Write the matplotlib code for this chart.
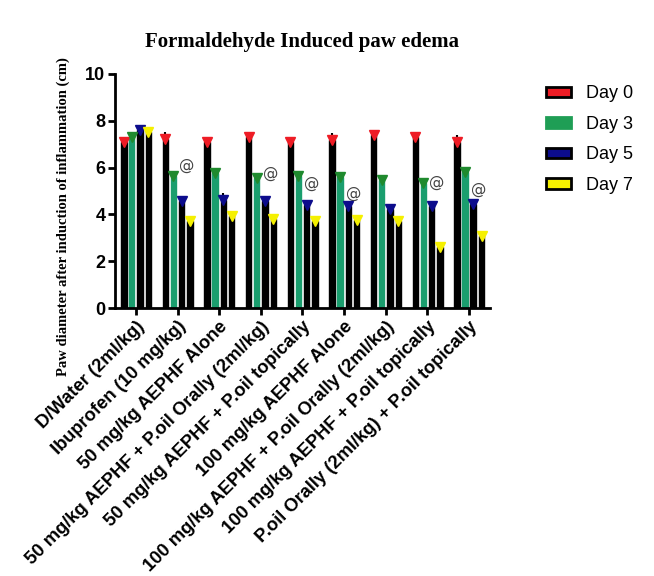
import numpy as np
import matplotlib
matplotlib.use("Agg")
import matplotlib.pyplot as plt
from matplotlib.patches import Patch

groups = [
    "D/Water (2ml/kg)",
    "Ibuprofen (10 mg/kg)",
    "50 mg/kg AEPHF Alone",
    "50 mg/kg AEPHF + P.oil Orally (2ml/kg)",
    "50 mg/kg AEPHF + P.oil topically",
    "100 mg/kg AEPHF Alone",
    "100 mg/kg AEPHF + P.oil Orally (2ml/kg)",
    "100 mg/kg AEPHF + P.oil topically",
    "P.oil Orally (2ml/kg) + P.oil topically",
]
days = ["Day 0", "Day 3", "Day 5", "Day 7"]

day0 = [7.10, 7.20, 7.08, 7.28, 7.10, 7.18, 7.38, 7.28, 7.10]
day3 = [7.30, 5.62, 5.75, 5.55, 5.65, 5.58, 5.45, 5.35, 5.82]
day5 = [7.58, 4.55, 4.62, 4.55, 4.42, 4.35, 4.22, 4.35, 4.45]
day7 = [7.50, 3.72, 3.95, 3.80, 3.72, 3.78, 3.72, 2.62, 3.08]

sem0 = [0.20, 0.30, 0.10, 0.20, 0.10, 0.30, 0.10, 0.15, 0.30]
sem3 = [0.15, 0.10, 0.15, 0.15, 0.20, 0.10, 0.10, 0.15, 0.10]
sem5 = [0.10, 0.10, 0.30, 0.10, 0.10, 0.10, 0.10, 0.10, 0.10]
sem7 = [0.10, 0.10, 0.10, 0.10, 0.10, 0.10, 0.10, 0.10, 0.10]

# "@" significance marks: group index -> height of the mark
sig_marks = {1: 6.1, 3: 5.75, 4: 5.3, 5: 4.88, 7: 5.38, 8: 5.05}

values = [day0, day3, day5, day7]
errors = [sem0, sem3, sem5, sem7]
bar_colors = ["black", "#1a9e6e", "black", "black"]
marker_colors = ["#ee1c25", "#1f8a2e", "#0c0c8c", "#f5f000"]
legend_fill = ["#ee1c25", "#1f9e55", "#0c0c8c", "#f5f000"]
legend_edge = ["black", "#1f9e55", "black", "black"]

fig = plt.figure(figsize=(6.54, 5.76), dpi=100)
ax = fig.add_axes([0.176, 0.465, 0.573, 0.407])

x = np.arange(len(groups))
offsets = [-0.29, -0.10, 0.10, 0.30]
width = 0.13

for i in range(4):
    xi = x + offsets[i]
    ax.bar(xi, values[i], width=width, color=bar_colors[i], edgecolor=bar_colors[i], zorder=2)
    ax.errorbar(xi, values[i], yerr=[np.zeros(len(groups)), errors[i]], fmt="none",
                ecolor="black", elinewidth=1.5, capsize=0, zorder=3)
    ax.plot(xi, values[i], linestyle="none", marker="v", markersize=7.5,
            color=marker_colors[i], zorder=4)

for g, yy in sig_marks.items():
    ax.text(g + 0.23, yy, "@", ha="center", va="center", fontsize=11,
            color="#444444", family="DejaVu Sans")

ax.set_xlim(-0.5, 8.5)
ax.set_ylim(0, 10)
ax.set_yticks([0, 2, 4, 6, 8, 10])
ax.set_xticks(x)
ax.set_xticklabels(groups, rotation=45, ha="right", rotation_mode="anchor",
                   fontsize=13.2, fontweight="bold", family="Liberation Sans")
for lab in ax.get_yticklabels():
    lab.set_fontsize(13)
    lab.set_fontweight("bold")
    lab.set_family("Liberation Sans")

ax.spines["top"].set_visible(False)
ax.spines["right"].set_visible(False)
ax.spines["left"].set_linewidth(2)
ax.spines["bottom"].set_linewidth(2)
ax.tick_params(axis="both", width=2, length=5, pad=2)

ax.set_title("Formaldehyde Induced paw edema", fontsize=15, fontweight="bold",
             family="Liberation Serif", pad=19)
ax.set_ylabel("Paw diameter after induction of inflammation (cm)", fontsize=10.5,
              fontweight="bold", family="Liberation Serif")
ax.yaxis.set_label_coords(-0.12, 0.39)

handles = [Patch(facecolor=legend_fill[i], edgecolor=legend_edge[i], linewidth=2)
           for i in range(4)]
fig.legend(handles, days, loc="upper left", bbox_to_anchor=(0.81, 0.88),
           frameon=False, handlelength=1.4, handleheight=0.5,
           labelspacing=0.75, handletextpad=0.8,
           prop={"family": "Liberation Sans", "size": 13})

fig.savefig("out.png", dpi=100)
